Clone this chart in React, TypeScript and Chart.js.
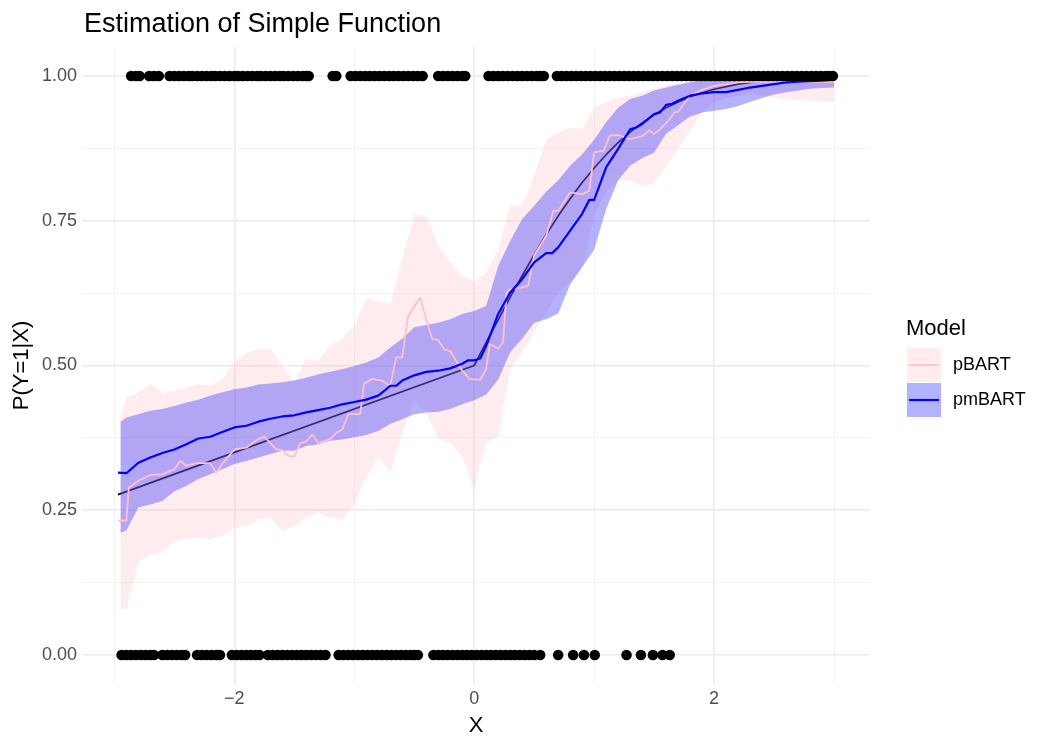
import React, { useEffect, useRef } from "react";
import { Chart, registerables } from "chart.js";

Chart.register(...registerables);

const FONT = "'Liberation Sans', Arial, Helvetica, sans-serif";

// ---- data ----
const xGrid = [
  -2.95, -2.9, -2.8, -2.7, -2.6, -2.5, -2.4, -2.3, -2.2, -2.1, -2.0, -1.9, -1.8, -1.7, -1.6, -1.5,
  -1.4, -1.3, -1.2, -1.1, -1.0, -0.9, -0.8, -0.7, -0.6, -0.5, -0.4, -0.3, -0.2, -0.1, 0.0, 0.1,
  0.2, 0.3, 0.4, 0.5, 0.6, 0.7, 0.8, 0.9, 1.0, 1.1, 1.2, 1.3, 1.4, 1.5, 1.6, 1.7,
  1.8, 1.9, 2.0, 2.1, 2.2, 2.3, 2.4, 2.5, 2.6, 2.7, 2.8, 2.9, 3.0,
];

const pinkHi = [
  0.407, 0.445, 0.453, 0.469, 0.453, 0.456, 0.462, 0.468, 0.465, 0.476, 0.505, 0.522, 0.528, 0.53, 0.499, 0.472,
  0.511, 0.508, 0.534, 0.546, 0.569, 0.617, 0.611, 0.606, 0.684, 0.76, 0.759, 0.707, 0.678, 0.655, 0.645, 0.661,
  0.701, 0.776, 0.776, 0.828, 0.891, 0.903, 0.911, 0.908, 0.946, 0.954, 0.962, 0.966, 0.972, 0.978, 0.984, 0.988,
  0.991, 0.993, 0.995, 0.996, 0.997, 0.998, 0.998, 0.999, 0.999, 0.999, 0.999, 0.999, 0.999,
];

const pinkLo = [
  0.079, 0.079, 0.16, 0.174, 0.177, 0.197, 0.2, 0.203, 0.2, 0.206, 0.22, 0.223, 0.234, 0.237, 0.214, 0.222,
  0.237, 0.246, 0.237, 0.234, 0.26, 0.309, 0.341, 0.315, 0.384, 0.44, 0.419, 0.373, 0.366, 0.344, 0.286, 0.367,
  0.378, 0.494, 0.523, 0.557, 0.592, 0.626, 0.645, 0.665, 0.76, 0.8, 0.82, 0.82, 0.81, 0.815, 0.845, 0.874,
  0.906, 0.937, 0.955, 0.962, 0.966, 0.968, 0.966, 0.963, 0.96, 0.958, 0.957, 0.956, 0.955,
];

const blueHi = [
  0.403, 0.41, 0.416, 0.422, 0.425, 0.43, 0.436, 0.441, 0.448, 0.454, 0.459, 0.462, 0.467, 0.469, 0.471, 0.474,
  0.479, 0.485, 0.489, 0.494, 0.499, 0.505, 0.514, 0.531, 0.546, 0.566, 0.57, 0.574, 0.58, 0.589, 0.594, 0.603,
  0.672, 0.715, 0.753, 0.776, 0.8, 0.82, 0.845, 0.865, 0.89, 0.92, 0.945, 0.96, 0.966, 0.975, 0.98, 0.985,
  0.989, 0.992, 0.994, 0.995, 0.996, 0.997, 0.997, 0.998, 0.998, 0.998, 0.998, 0.998, 0.998,
];

const blueLo = [
  0.211, 0.215, 0.255, 0.26, 0.266, 0.283, 0.292, 0.304, 0.312, 0.321, 0.33, 0.335, 0.341, 0.347, 0.353, 0.353,
  0.361, 0.364, 0.37, 0.372, 0.376, 0.38, 0.387, 0.399, 0.407, 0.416, 0.419, 0.42, 0.425, 0.433, 0.44, 0.45,
  0.476, 0.523, 0.546, 0.574, 0.58, 0.59, 0.64, 0.67, 0.7, 0.77, 0.82, 0.845, 0.858, 0.868, 0.9, 0.915,
  0.93, 0.937, 0.94, 0.943, 0.948, 0.955, 0.962, 0.968, 0.972, 0.975, 0.978, 0.979, 0.98,
];

const pinkLineX = [
  -2.97, -2.9, -2.88, -2.8, -2.7, -2.6, -2.5, -2.45, -2.4, -2.3, -2.2, -2.15, -2.1, -2.0, -1.9, -1.8,
  -1.75, -1.7, -1.65, -1.6, -1.55, -1.5, -1.45, -1.4, -1.35, -1.3, -1.2, -1.15, -1.1, -1.05, -0.95, -0.92,
  -0.85, -0.77, -0.7, -0.65, -0.6, -0.55, -0.45, -0.4, -0.35, -0.3, -0.25, -0.2, -0.15, -0.1, -0.04, 0.05,
  0.1, 0.13, 0.2, 0.24, 0.27, 0.3, 0.4, 0.45, 0.5, 0.6, 0.66, 0.7, 0.8, 0.9, 0.96, 1.0,
  1.08, 1.13, 1.2, 1.3, 1.4, 1.46, 1.5, 1.55, 1.62, 1.67, 1.7, 1.76, 1.8, 1.9, 2.0, 2.1,
  2.2, 2.3, 3.0,
];
const pinkLineY = [
  0.232, 0.232, 0.289, 0.301, 0.311, 0.312, 0.321, 0.335, 0.327, 0.332, 0.331, 0.315, 0.33, 0.355, 0.358, 0.373,
  0.377, 0.366, 0.355, 0.354, 0.344, 0.343, 0.366, 0.369, 0.381, 0.366, 0.373, 0.384, 0.389, 0.416, 0.416, 0.468,
  0.477, 0.474, 0.465, 0.514, 0.514, 0.586, 0.617, 0.58, 0.546, 0.544, 0.528, 0.525, 0.508, 0.491, 0.477, 0.475,
  0.494, 0.537, 0.529, 0.54, 0.626, 0.632, 0.635, 0.638, 0.69, 0.724, 0.767, 0.767, 0.799, 0.796, 0.802, 0.868,
  0.871, 0.897, 0.898, 0.891, 0.896, 0.906, 0.9, 0.908, 0.923, 0.937, 0.938, 0.955, 0.966, 0.976, 0.983, 0.986,
  0.989, 0.99, 0.99,
];

const blueLineX = [
  -2.97, -2.9, -2.8, -2.7, -2.6, -2.5, -2.4, -2.3, -2.2, -2.1, -2.0, -1.9, -1.8, -1.7, -1.6, -1.5,
  -1.4, -1.3, -1.2, -1.1, -1.0, -0.9, -0.8, -0.75, -0.7, -0.65, -0.6, -0.5, -0.4, -0.3, -0.2, -0.1,
  -0.05, 0.0, 0.05, 0.1, 0.2, 0.3, 0.4, 0.5, 0.6, 0.65, 0.7, 0.8, 0.9, 0.96, 1.0, 1.1,
  1.2, 1.3, 1.35, 1.4, 1.5, 1.55, 1.6, 1.65, 1.7, 1.8, 1.9, 2.0, 2.1, 2.2, 2.3, 2.4,
  2.5, 2.6, 2.7, 2.8, 2.9, 3.0,
];
const blueLineY = [
  0.315, 0.314, 0.332, 0.341, 0.349, 0.355, 0.364, 0.374, 0.377, 0.385, 0.393, 0.396, 0.403, 0.408, 0.412, 0.414,
  0.419, 0.423, 0.427, 0.433, 0.437, 0.441, 0.448, 0.456, 0.465, 0.465, 0.474, 0.483, 0.489, 0.491, 0.495, 0.503,
  0.509, 0.509, 0.512, 0.534, 0.589, 0.626, 0.649, 0.678, 0.694, 0.694, 0.704, 0.733, 0.762, 0.786, 0.786, 0.842,
  0.874, 0.908, 0.911, 0.917, 0.934, 0.937, 0.95, 0.952, 0.957, 0.966, 0.97, 0.972, 0.972, 0.976, 0.98, 0.983,
  0.986, 0.989, 0.99, 0.991, 0.992, 0.994,
];

const truthX = [
  -2.97, 0.0, 0.1, 0.2, 0.3, 0.4, 0.5, 0.6, 0.7, 0.8, 0.9, 1.0, 1.1, 1.2, 1.3, 1.4,
  1.5, 1.6, 1.7, 1.8, 1.9, 2.0, 2.2, 2.4, 2.6, 2.8, 3.0,
];
const truthY = [
  0.277, 0.5, 0.54, 0.579, 0.618, 0.655, 0.691, 0.726, 0.758, 0.788, 0.816, 0.841, 0.864, 0.885, 0.903, 0.919,
  0.933, 0.945, 0.955, 0.964, 0.971, 0.977, 0.986, 0.992, 0.995, 0.997, 0.999,
];

const onesX = [
  -2.86, -2.82, -2.79, -2.71, -2.67, -2.63,
  -2.54, -2.5, -2.46, -2.42, -2.38, -2.35, -2.31, -2.27, -2.23, -2.19, -2.16, -2.12, -2.08, -2.04, -2.0, -1.97,
  -1.93, -1.89, -1.85, -1.81, -1.78, -1.74, -1.7, -1.66, -1.62, -1.59, -1.55, -1.51, -1.47, -1.43, -1.4, -1.38,
  -1.18, -1.15,
  -1.03, -0.99, -0.95, -0.91, -0.87, -0.83, -0.79, -0.75, -0.71, -0.67, -0.63, -0.59, -0.55, -0.51, -0.47, -0.43,
  -0.3, -0.26, -0.22, -0.18, -0.14, -0.1, -0.075,
  0.12, 0.16, 0.2, 0.24, 0.28, 0.32, 0.36, 0.4, 0.44, 0.48, 0.52, 0.55, 0.58,
  0.69, 0.73, 0.77, 0.81, 0.85, 0.89, 0.93, 0.97, 1.01, 1.05, 1.09, 1.13, 1.17, 1.21, 1.25, 1.29,
  1.33, 1.37, 1.41, 1.45, 1.49, 1.53, 1.57, 1.61, 1.65, 1.69, 1.73, 1.77, 1.81, 1.85, 1.89, 1.93,
  1.97, 2.01, 2.05, 2.09, 2.13, 2.17, 2.21, 2.25, 2.29, 2.33, 2.37, 2.41, 2.45, 2.49, 2.53, 2.57,
  2.61, 2.65, 2.69, 2.73, 2.77, 2.81, 2.85, 2.89, 2.93, 2.96, 2.99,
];
const zerosX = [
  -2.94, -2.9, -2.86, -2.82, -2.78, -2.74, -2.7, -2.67,
  -2.6, -2.56, -2.52, -2.48, -2.44, -2.41,
  -2.31, -2.27, -2.23, -2.19, -2.15, -2.12,
  -2.02, -1.98, -1.94, -1.9, -1.86, -1.82, -1.79,
  -1.72, -1.68, -1.64, -1.6, -1.56, -1.52, -1.48, -1.44, -1.4, -1.36, -1.32, -1.28, -1.24,
  -1.13, -1.09, -1.05, -1.01, -0.97, -0.93, -0.89, -0.85, -0.81, -0.77, -0.73, -0.69, -0.65, -0.61, -0.57, -0.53,
  -0.5, -0.47,
  -0.34, -0.3, -0.26, -0.22, -0.18, -0.14, -0.1, -0.06, -0.02, 0.02, 0.06, 0.1, 0.14, 0.18, 0.22, 0.26,
  0.3, 0.34, 0.38, 0.42, 0.46, 0.5, 0.55,
  0.7, 0.825, 0.915, 1.005, 1.27, 1.39, 1.49, 1.57, 1.63,
];

const xTicks = [-3, -2, -1, 0, 1, 2, 3];
const yTicks = [0, 0.125, 0.25, 0.375, 0.5, 0.625, 0.75, 0.875, 1];
const legendItems = [
  { label: "pBART", fill: "rgba(255,192,203,0.3)", line: "#FFC0CB" },
  { label: "pmBART", fill: "rgba(0,0,255,0.3)", line: "#0000FF" },
];

const pts = (xs: number[], ys: number[]) => xs.map((x, i) => ({ x, y: ys[i] }));
const isMajorY = (v: number) => Math.abs(v * 4 - Math.round(v * 4)) < 1e-6;
const isMajorX = (v: number) => Math.abs(v % 2) < 1e-6;

const MAJOR = "#EBEBEB";
const MINOR = "#F3F3F3";

export default function App() {
  const ref = useRef<HTMLCanvasElement>(null);

  useEffect(() => {
    const canvas = ref.current;
    if (!canvas) return;

    const overlay = {
      id: "overlay",
      afterDraw(chart: any) {
        const ctx = chart.ctx as CanvasRenderingContext2D;
        const area = chart.chartArea;
        ctx.save();
        ctx.fillStyle = "#000";
        ctx.textBaseline = "alphabetic";
        ctx.textAlign = "left";
        ctx.font = `27px ${FONT}`;
        ctx.fillText("Estimation of Simple Function", area.left + 2, 31.5);
        const lx = area.right + 37;
        ctx.font = `22px ${FONT}`;
        ctx.fillText("Model", lx - 1, 335);
        legendItems.forEach((it, i) => {
          const top = 348 + i * 35;
          ctx.fillStyle = it.fill;
          ctx.fillRect(lx, top, 34, 34);
          ctx.strokeStyle = it.line;
          ctx.lineWidth = i === 0 ? 1.8 : 2.2;
          ctx.beginPath();
          ctx.moveTo(lx + 2, top + 17);
          ctx.lineTo(lx + 32, top + 17);
          ctx.stroke();
          ctx.fillStyle = "#000";
          ctx.font = `18px ${FONT}`;
          ctx.textBaseline = "middle";
          ctx.fillText(it.label, lx + 46, top + 17);
          ctx.textBaseline = "alphabetic";
        });
        ctx.restore();
      },
    };

    const dots = [
      ...onesX.map((x) => ({ x, y: 1 })),
      ...zerosX.map((x) => ({ x, y: 0 })),
    ];

    const band = (data: any, order: number, fillColor?: string) => ({
      data,
      borderColor: "rgba(0,0,0,0)",
      borderWidth: 0,
      pointRadius: 0,
      backgroundColor: fillColor || "rgba(0,0,0,0)",
      fill: fillColor ? "+1" : false,
      order,
    });

    const chart = new Chart(canvas, {
      type: "line",
      data: {
        datasets: [
          {
            type: "scatter",
            label: "obs",
            data: dots,
            pointRadius: 5.3,
            pointHoverRadius: 5.3,
            backgroundColor: "#000",
            borderWidth: 0,
            order: 0,
          } as any,
          {
            label: "pmBART",
            data: pts(blueLineX, blueLineY),
            borderColor: "#0000FF",
            borderWidth: 2.2,
            pointRadius: 0,
            fill: false,
            order: 1,
          },
          {
            label: "pBART",
            data: pts(pinkLineX, pinkLineY),
            borderColor: "#FFC0CB",
            borderWidth: 1.8,
            pointRadius: 0,
            fill: false,
            order: 2,
          },
          { label: "pmBART hi", ...band(pts(xGrid, blueHi), 3, "rgba(0,0,255,0.3)") },
          { label: "pmBART lo", ...band(pts(xGrid, blueLo), 3.5) },
          { label: "pBART hi", ...band(pts(xGrid, pinkHi), 4, "rgba(255,192,203,0.3)") },
          { label: "pBART lo", ...band(pts(xGrid, pinkLo), 4.5) },
          {
            label: "truth",
            data: pts(truthX, truthY),
            borderColor: "#000000",
            borderWidth: 1.7,
            pointRadius: 0,
            fill: false,
            order: 5,
          },
        ],
      },
      options: {
        animation: false,
        responsive: false,
        maintainAspectRatio: false,
        events: [],
        layout: { padding: { left: 0, right: 180, top: 47, bottom: 0 } },
        plugins: {
          legend: { display: false },
          tooltip: { enabled: false },
          title: { display: false },
        },
        elements: { line: { tension: 0, borderJoinStyle: "round" } },
        scales: {
          x: {
            type: "linear",
            min: -3.27,
            max: 3.3,
            afterBuildTicks: (ax: any) => {
              ax.ticks = xTicks.map((v) => ({ value: v }));
            },
            afterFit: (s: any) => {
              s.height = 66;
            },
            border: { display: false },
            grid: {
              drawTicks: false,
              color: (c: any) => (c.tick && isMajorX(c.tick.value) ? MAJOR : MINOR),
              lineWidth: (c: any) => (c.tick && isMajorX(c.tick.value) ? 1.6 : 1),
            },
            ticks: {
              autoSkip: false,
              maxRotation: 0,
              padding: 4,
              color: "#4D4D4D",
              font: { family: FONT, size: 18 },
              callback: (v: any) => {
                const n = Number(v);
                if (!isMajorX(n)) return "";
                return n < 0 ? "\u2212" + Math.abs(n) : String(n);
              },
            },
            title: {
              display: true,
              text: "X",
              color: "#000",
              font: { family: FONT, size: 22 },
              padding: { top: 0, bottom: 11 },
            },
          },
          y: {
            type: "linear",
            min: -0.05,
            max: 1.05,
            afterBuildTicks: (ax: any) => {
              ax.ticks = yTicks.map((v) => ({ value: v }));
            },
            afterFit: (s: any) => {
              s.width = 82;
            },
            border: { display: false },
            grid: {
              drawTicks: false,
              color: (c: any) => (c.tick && isMajorY(c.tick.value) ? MAJOR : MINOR),
              lineWidth: (c: any) => (c.tick && isMajorY(c.tick.value) ? 1.6 : 1),
            },
            ticks: {
              autoSkip: false,
              padding: 5,
              color: "#4D4D4D",
              font: { family: FONT, size: 18 },
              callback: (v: any) => {
                const n = Number(v);
                return isMajorY(n) ? n.toFixed(2) : "";
              },
            },
            title: {
              display: true,
              text: "P(Y=1|X)",
              color: "#000",
              font: { family: FONT, size: 22 },
              padding: { top: 9, bottom: 0 },
            },
          },
        },
      },
      plugins: [overlay],
    } as any);

    return () => chart.destroy();
  }, []);

  return (
    <div
      style={{
        position: "fixed",
        left: 0,
        top: 0,
        width: 1050,
        height: 750,
        background: "#fff",
      }}
    >
      <canvas ref={ref} width={1050} height={750} style={{ display: "block" }} />
    </div>
  );
}
